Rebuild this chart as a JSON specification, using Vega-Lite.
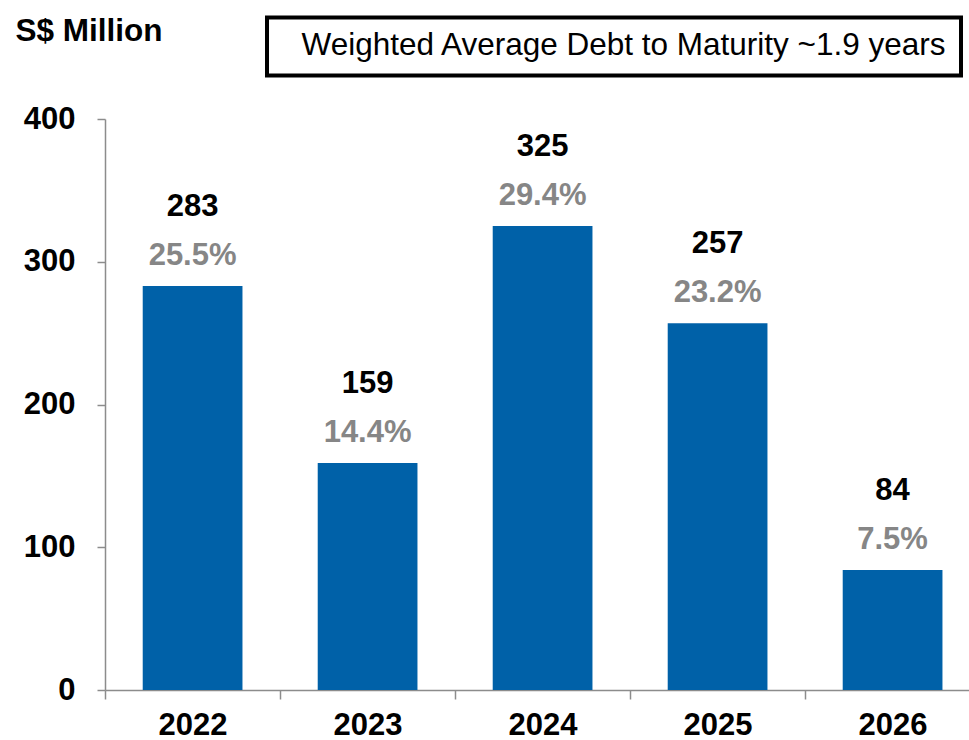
{
  "$schema": "https://vega.github.io/schema/vega-lite/v6.json",
  "width": 864,
  "height": 571,
  "autosize": {"type": "none"},
  "padding": {"left": 105, "top": 119, "right": 0, "bottom": 50},
  "background": "white",
  "config": {
    "view": {"stroke": null},
    "font": "Liberation Sans"
  },
  "data": {
    "values": [
      {"year": "2022", "value": 283, "pct": "25.5%", "series": "Weighted Average Debt to Maturity ~1.9 years"},
      {"year": "2023", "value": 159, "pct": "14.4%", "series": "Weighted Average Debt to Maturity ~1.9 years"},
      {"year": "2024", "value": 325, "pct": "29.4%", "series": "Weighted Average Debt to Maturity ~1.9 years"},
      {"year": "2025", "value": 257, "pct": "23.2%", "series": "Weighted Average Debt to Maturity ~1.9 years"},
      {"year": "2026", "value": 84, "pct": "7.5%", "series": "Weighted Average Debt to Maturity ~1.9 years"}
    ]
  },
  "encoding": {
    "x": {
      "field": "year",
      "type": "nominal",
      "sort": null,
      "scale": {"paddingInner": 0.43, "paddingOuter": 0.1836, "align": 0.587},
      "axis": {
        "title": null,
        "labelAngle": 0,
        "labelFont": "Liberation Sans",
        "labelFontSize": 31,
        "labelFontWeight": "bold",
        "labelColor": "black",
        "labelBaseline": "alphabetic",
        "labelPadding": 35,
        "bandPosition": 0,
        "tickOffset": -37.6,
        "labelOffset": 37.6,
        "tickSize": 9,
        "tickColor": "#8c8c8c",
        "tickWidth": 1.5,
        "domainColor": "#8c8c8c",
        "domainWidth": 1.5,
        "grid": false
      }
    },
    "y": {
      "field": "value",
      "type": "quantitative",
      "scale": {"domain": [0, 400], "nice": false},
      "axis": {
        "values": [0, 100, 200, 300, 400],
        "title": "S$ Million",
        "titleAngle": 0,
        "titleX": -90,
        "titleY": -79,
        "titleAlign": "left",
        "titleBaseline": "alphabetic",
        "titleFont": "Liberation Sans",
        "titleFontSize": 31.5,
        "titleFontWeight": "bold",
        "titleColor": "black",
        "labelFont": "Liberation Sans",
        "labelFontSize": 31,
        "labelFontWeight": "bold",
        "labelColor": "black",
        "labelPadding": 22,
        "tickSize": 8,
        "tickColor": "#8c8c8c",
        "tickWidth": 1.5,
        "domainColor": "#8c8c8c",
        "domainWidth": 1.5,
        "grid": false
      }
    }
  },
  "layer": [
    {
      "mark": {"type": "bar"},
      "encoding": {
        "color": {
          "field": "series",
          "type": "nominal",
          "scale": {"range": ["#0061A8"]},
          "legend": {
            "orient": "none",
            "legendX": 162,
            "legendY": -101.5,
            "title": null,
            "strokeColor": "black",
            "padding": 13,
            "labelFont": "Liberation Sans",
            "labelFontSize": 31.5,
            "labelFontWeight": "normal",
            "labelColor": "black",
            "labelLimit": 2000,
            "labelOffset": -10,
            "symbolSize": 0,
            "symbolOpacity": 0,
            "symbolStrokeWidth": 0,
            "encode": {"legend": {"update": {"strokeWidth": {"value": 4}}}}
          }
        }
      }
    },
    {
      "mark": {"type": "text", "dy": -70, "baseline": "alphabetic", "fontSize": 31, "fontWeight": "bold", "color": "black", "font": "Liberation Sans"},
      "encoding": {"text": {"field": "value", "type": "quantitative"}}
    },
    {
      "mark": {"type": "text", "dy": -21, "baseline": "alphabetic", "fontSize": 31, "fontWeight": "bold", "color": "#868686", "font": "Liberation Sans"},
      "encoding": {"text": {"field": "pct", "type": "nominal"}}
    }
  ]
}
